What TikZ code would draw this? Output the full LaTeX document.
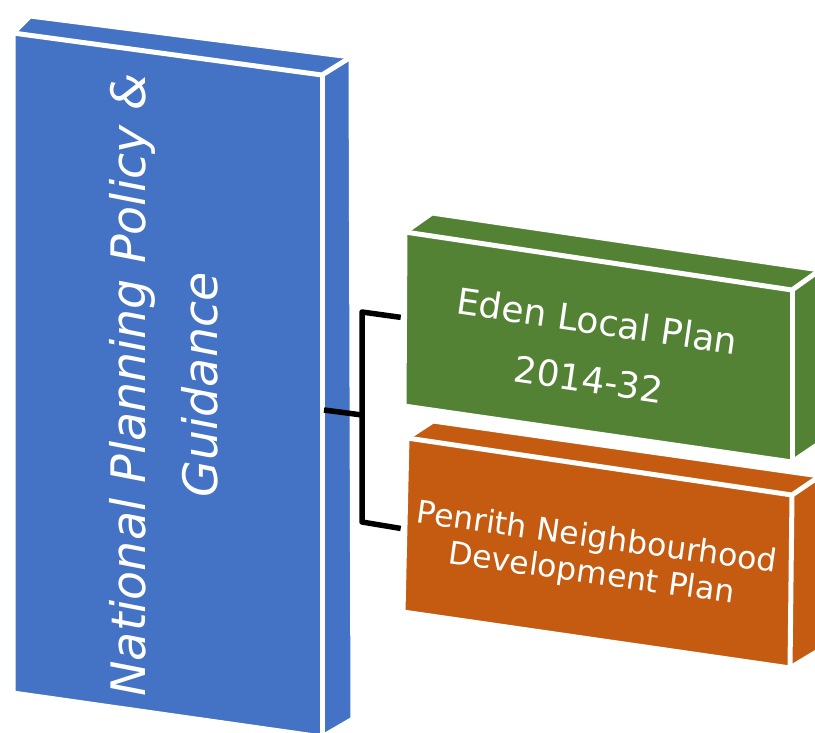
\documentclass[tikz,border=0pt]{standalone}
\usepackage{fontspec}
\setmainfont{DejaVu Sans}
\begin{document}
\begin{tikzpicture}[x=1pt,y=-1pt,line join=round]
\definecolor{nblue}{HTML}{4472C4}
\definecolor{ngreen}{HTML}{548235}
\definecolor{norange}{HTML}{C55A11}
\tikzset{
  edgeline/.style={draw=white,line width=5pt,line join=round},
  conn/.style={draw=black,line width=5.5pt},
  boxtext/.style={text=white,align=center,inner sep=0pt}
}
\useasboundingbox (0,0) rectangle (815,733);
\clip (0,0) rectangle (815,733);
% ---------- blue box ----------
\coordinate (bFTL) at (13,33);
\coordinate (bFTR) at (322,75);
\coordinate (bFBR) at (322,737);
\coordinate (bFBL) at (13,693);
\coordinate (bBTL) at (30,16);
\coordinate (bBTR) at (351,57);
\coordinate (bBBR) at (353,719);
\fill[nblue] (bFBL)--(bFTL)--(bBTL)--(bBTR)--(bBBR)--(bFBR)--cycle;
\draw[edgeline] (bFBL)--(bFTL)--(bBTL)--(bBTR)--(bBBR)--(bFBR)--cycle;
\draw[edgeline] (bFTL)--(bFTR)--(bBTR);
\draw[edgeline] (bFTR)--(bFBR);
% ---------- green box ----------
\coordinate (gFTL) at (405,232);
\coordinate (gFTR) at (792,290);
\coordinate (gFBR) at (792,462);
\coordinate (gFBL) at (404,406);
\coordinate (gBTL) at (432,213);
\coordinate (gBTR) at (820,270);
\coordinate (gBBR) at (820,443);
\fill[ngreen] (gFBL)--(gFTL)--(gBTL)--(gBTR)--(gBBR)--(gFBR)--cycle;
\draw[edgeline] (gFBL)--(gFTL)--(gBTL)--(gBTR)--(gBBR)--(gFBR)--cycle;
\draw[edgeline] (gFTL)--(gFTR)--(gBTR);
\draw[edgeline] (gFTR)--(gFBR);
% ---------- orange box ----------
\coordinate (oFTL) at (407,438);
\coordinate (oFTR) at (792,495);
\coordinate (oFBR) at (790,668);
\coordinate (oFBL) at (403,612);
\coordinate (oBTL) at (433,421);
\coordinate (oBTR) at (820,476);
\coordinate (oBBR) at (820,650);
\fill[norange] (oFBL)--(oFTL)--(oBTL)--(oBTR)--(oBBR)--(oFBR)--cycle;
\draw[edgeline] (oFBL)--(oFTL)--(oBTL)--(oBTR)--(oBBR)--(oFBR)--cycle;
\draw[edgeline] (oFTL)--(oFTR)--(oBTR);
\draw[edgeline] (oFTR)--(oFBR);
% ---------- texts ----------
\node[boxtext,font=\itshape\fontsize{47.5}{72}\selectfont,rotate=90] (npp) at (164,385)
  {National Planning Policy \&\\Guidance};
\node[boxtext,font=\fontsize{36}{59}\selectfont,rotate=-8.3] (eden) at (593,350)
  {Eden Local Plan\\2014-32};
\node[boxtext,font=\fontsize{31.5}{36}\selectfont,rotate=-7.9] (penrith) at (594,557)
  {Penrith Neighbourhood\\Development Plan};
% ---------- connector ----------
\coordinate (nppR) at (324,410);
\coordinate (jmid) at (362,415);
\coordinate (jtop) at (362,312);
\coordinate (jbot) at (362,522);
\coordinate (edenL) at (398,317);
\coordinate (penL) at (398,528);
\draw[conn] (nppR)--(jmid);
\draw[conn,line cap=rect] (edenL)--(jtop)--(jbot)--(penL);
\end{tikzpicture}
\end{document}
